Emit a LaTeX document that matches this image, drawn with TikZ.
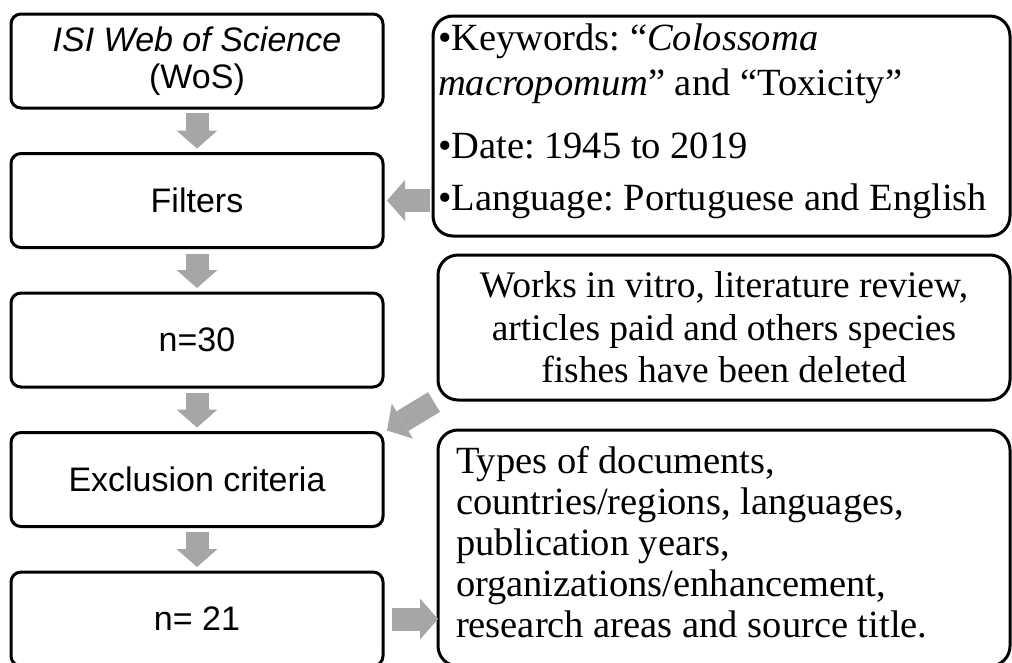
\documentclass[tikz,border=0pt]{standalone}
\usepackage{fontspec}
\setmainfont{Liberation Serif}
\newfontfamily\arialfont{Liberation Sans}
\usetikzlibrary{arrows.meta,positioning}
\definecolor{arrgray}{RGB}{166,166,166}
\frenchspacing

\begin{document}
\begin{tikzpicture}[x=1pt, y=-1pt, node distance=45.5pt,
  lbox/.style={draw, line width=3pt, outer sep=0pt, rounded corners=10pt, align=center, minimum width=372pt, minimum height=94pt, font=\arialfont\fontsize{34}{37}\selectfont},
  rbox/.style={draw, line width=3pt, outer sep=0pt, rounded corners=20pt, inner ysep=0pt},
  blk/.style={arrgray, line width=23pt, -{Triangle[length=18pt, width=41pt, line width=0pt]}}]
\useasboundingbox (0,0) rectangle (1012,662);
\clip (0,0) rectangle (1012,662);
\fill[white] (0,0) rectangle (1012,662);
% search steps
\node[lbox] (isi) at (197,61) {\textit{ISI Web of Science}\\(WoS)};
\node[lbox,below=of isi] (filt) {Filters};
\node[lbox,below=of filt] (n30) {n=30};
\node[lbox,below=of n30] (excl) {Exclusion criteria};
\node[lbox,below=of excl] (n21) {n= 21};
% notes
\node[rbox, minimum width=577pt, minimum height=220pt, text width=567pt, inner xsep=5pt, align=flush left, font=\fontsize{38.5}{45}\selectfont] (kw) at (721.5,126)
  {•Keywords: “\textit{Colossoma}\\\textit{macropomum}” and “Toxicity”\\[18pt]•Date: 1945 to 2019\\[7pt]•Language: Portuguese and English\rule[-18pt]{0pt}{0pt}};
\node[rbox, minimum width=572pt, minimum height=145pt, text width=556pt, inner xsep=8pt, align=flush center, font=\fontsize{37.5}{42.5}\selectfont] (del) at (724,327.5)
  {Works in vitro, literature review,\\articles paid and others species\\fishes have been deleted};
\node[rbox, minimum width=572pt, minimum height=236pt, text width=536pt, inner xsep=18pt, align=flush left, font=\fontsize{38.5}{41}\selectfont] (types) at (724,548)
  {Types of documents,\\countries/regions, languages,\\publication years,\\organizations/enhancement,\\research areas and source title.\rule[-12pt]{0pt}{0pt}};
% arrows
\draw[blk] ([yshift=-5pt]isi.south) -- ([yshift=5pt]filt.north);
\draw[blk] ([yshift=-6pt]filt.south) -- ([yshift=5pt]n30.north);
\draw[blk] ([yshift=-6pt]n30.south) -- ([yshift=5pt]excl.north);
\draw[blk] ([yshift=-5pt]excl.south) -- ([yshift=5pt]n21.north);
\draw[blk] ([xshift=-3pt]kw.west |- filt.east) -- ([xshift=4pt]filt.east);
\draw[blk] ([shift={(-4pt,-2pt)}]del.south west) -- ([shift={(4pt,2pt)}]excl.north east);
\draw[blk] ([xshift=9pt]n21.east) -- (n21.east -| types.west);
\end{tikzpicture}
\end{document}
